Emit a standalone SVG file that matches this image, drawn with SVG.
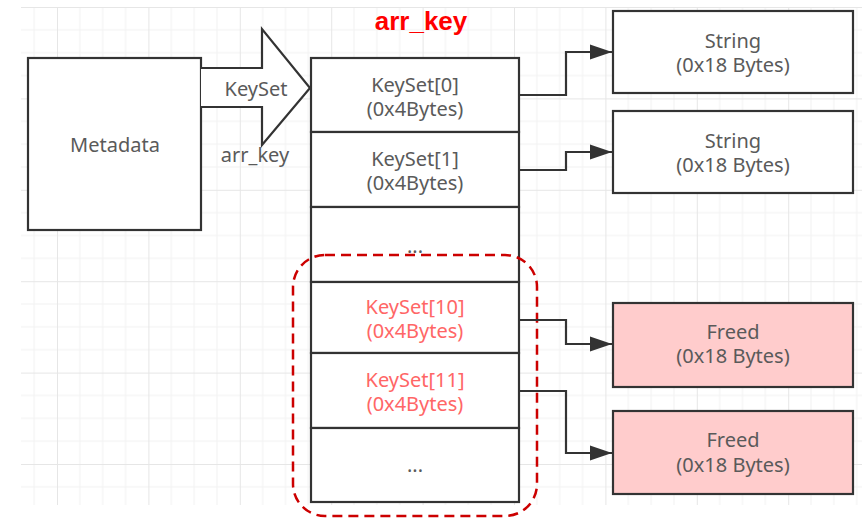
<svg xmlns="http://www.w3.org/2000/svg" width="864" height="518" viewBox="0 0 864 518">
  <style>
    .box { fill: #ffffff; stroke: #333333; stroke-width: 2.2; }
    .freed { fill: #ffcccc; stroke: #333333; stroke-width: 2.2; }
    .lbl { font-family: "Noto Sans", "DejaVu Sans", sans-serif; font-size: 20px; fill: #5a5a5a; text-anchor: middle; }
    .red { fill: #ff6666; }
    .title { font-family: "Liberation Sans", Arial, sans-serif; font-size: 26px; font-weight: bold; fill: #ff0000; text-anchor: middle; }
    .wire { fill: none; stroke: #333333; stroke-width: 2.2; }
    .minor { stroke: #f2f2f2; stroke-width: 1; }
    .major { stroke: #e6e6e6; stroke-width: 1; }
  </style>
  <defs>
    <pattern id="grid" patternUnits="userSpaceOnUse" x="57" y="7" width="91.4" height="91.4">
      <path class="minor" d="M22.85 0V91.4M45.7 0V91.4M68.55 0V91.4M0 22.85H91.4M0 45.7H91.4M0 68.55H91.4"/>
      <path class="major" d="M0.5 0V91.4M0 0.5H91.4"/>
    </pattern>
    <marker id="head" markerUnits="userSpaceOnUse" markerWidth="24" markerHeight="18" refX="22" refY="8" orient="auto">
      <path d="M0 0.5L22 8L0 15.5Z" fill="#333333"/>
    </marker>
  </defs>

  <!-- background grid -->
  <rect x="21" y="7" width="841" height="498" fill="#ffffff"/>
  <rect x="21" y="7" width="841" height="498" fill="url(#grid)"/>

  <!-- title -->
  <text class="title" x="421" y="30">arr_key</text>

  <!-- metadata block -->
  <g id="metadata">
    <rect class="box" x="28" y="58" width="173" height="172"/>
    <text class="lbl" x="115" y="152">Metadata</text>
  </g>

  <!-- big block arrow from metadata to the array -->
  <g id="keyset-arrow">
    <path class="box" d="M201 68H262V29L310 88L262 145V107H201"/>
    <text class="lbl" x="256" y="96">KeySet</text>
    <text class="lbl" x="255" y="162">arr_key</text>
  </g>

  <!-- array of KeySet slots -->
  <g id="slot0">
    <rect class="box" x="311" y="58" width="208" height="74"/>
    <text class="lbl" x="415" y="92">KeySet[0]</text>
    <text class="lbl" x="415" y="116">(0x4Bytes)</text>
  </g>
  <g id="slot1">
    <rect class="box" x="311" y="132" width="208" height="75"/>
    <text class="lbl" x="415" y="166">KeySet[1]</text>
    <text class="lbl" x="415" y="190">(0x4Bytes)</text>
  </g>
  <g id="slot-gap1">
    <rect class="box" x="311" y="207" width="208" height="75"/>
    <text class="lbl" x="415" y="253">...</text>
  </g>
  <g id="slot10">
    <rect class="box" x="311" y="282" width="208" height="71"/>
    <text class="lbl red" x="415" y="314">KeySet[10]</text>
    <text class="lbl red" x="415" y="338">(0x4Bytes)</text>
  </g>
  <g id="slot11">
    <rect class="box" x="311" y="353" width="208" height="75"/>
    <text class="lbl red" x="415" y="387">KeySet[11]</text>
    <text class="lbl red" x="415" y="411">(0x4Bytes)</text>
  </g>
  <g id="slot-gap2">
    <rect class="box" x="311" y="428" width="208" height="74"/>
    <text class="lbl" x="415" y="472">...</text>
  </g>

  <!-- highlight around freed slots -->
  <g id="freed-region">
    <rect x="293" y="255" width="244" height="261" rx="32" ry="32" fill="none" stroke="#cc0000" stroke-width="2.5" stroke-dasharray="10 6"/>
  </g>

  <!-- string objects -->
  <g id="string0">
    <rect class="box" x="613" y="11" width="240" height="82"/>
    <text class="lbl" x="733" y="48">String</text>
    <text class="lbl" x="733" y="72">(0x18 Bytes)</text>
  </g>
  <g id="string1">
    <rect class="box" x="613" y="111" width="240" height="82"/>
    <text class="lbl" x="733" y="148">String</text>
    <text class="lbl" x="733" y="172">(0x18 Bytes)</text>
  </g>
  <g id="freed0">
    <rect class="freed" x="613" y="303" width="240" height="84"/>
    <text class="lbl" x="733" y="339">Freed</text>
    <text class="lbl" x="733" y="363">(0x18 Bytes)</text>
  </g>
  <g id="freed1">
    <rect class="freed" x="613" y="411" width="240" height="83"/>
    <text class="lbl" x="733" y="447">Freed</text>
    <text class="lbl" x="733" y="472">(0x18 Bytes)</text>
  </g>

  <!-- pointers from slots to objects -->
  <g id="connectors">
    <path class="wire" d="M519 95H566V52H612" marker-end="url(#head)"/>
    <path class="wire" d="M519 170H566V152H612" marker-end="url(#head)"/>
    <path class="wire" d="M519 320H566V344H612" marker-end="url(#head)"/>
    <path class="wire" d="M519 391H566V453H612" marker-end="url(#head)"/>
  </g>
</svg>
